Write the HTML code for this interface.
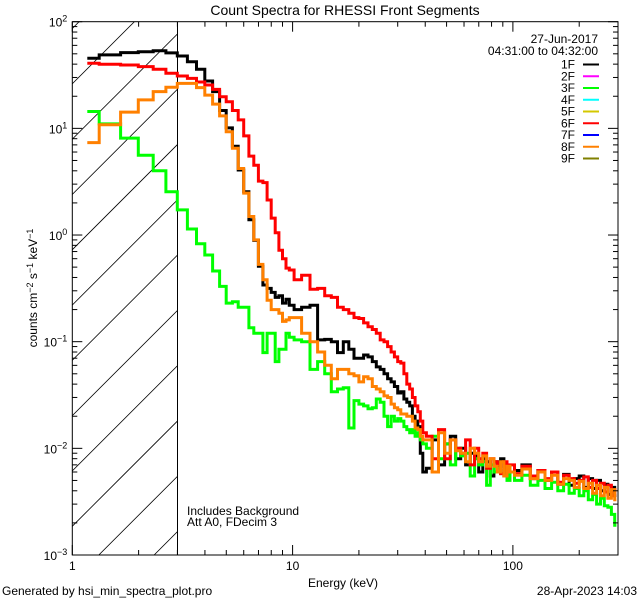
<!DOCTYPE html>
<html><head><meta charset="utf-8">
<style>
body{margin:0;background:#fff;}
svg{display:block;font-family:"Liberation Sans",sans-serif;}
text{fill:#000;font-size:12px;}
</style></head>
<body>
<svg id="chart" width="640" height="600" viewBox="0 0 640 600">
<rect width="640" height="600" fill="#fff"/>
<text x="345" y="15" text-anchor="middle" style="font-size:14px">Count Spectra for RHESSI Front Segments</text>
<defs><clipPath id="hatchclip"><rect x="72.3" y="21.7" width="105.2" height="533.3"/></clipPath>
<clipPath id="plotclip"><rect x="72.3" y="21.7" width="545.7" height="533.3"/></clipPath></defs>
<g id="hatch" clip-path="url(#hatchclip)"></g>
<line x1="177.5" y1="21.7" x2="177.5" y2="555" stroke="#000" stroke-width="1"/>
<g id="series" clip-path="url(#plotclip)"></g>
<g id="axes"></g>
<text x="187" y="515">Includes Background</text>
<text x="187" y="526">Att A0, FDecim 3</text>
<text x="343" y="587" text-anchor="middle">Energy (keV)</text>
<text transform="translate(37,288) rotate(-90)" text-anchor="middle">counts cm<tspan dy="-4" style="font-size:9px">−2</tspan><tspan dy="4"> s</tspan><tspan dy="-4" style="font-size:9px">−1</tspan><tspan dy="4"> keV</tspan><tspan dy="-4" style="font-size:9px">−1</tspan></text>
<text x="2" y="595">Generated by hsi_min_spectra_plot.pro</text>
<text x="637" y="595" text-anchor="end">28-Apr-2023 14:03</text>
<text x="598" y="43" text-anchor="end">27-Jun-2017</text>
<text x="598" y="55" text-anchor="end">04:31:00 to 04:32:00</text>
<g id="legend"></g>
</svg>
<script>
const energyKeV=[1.17,1.5,1.83,2.17,2.5,2.83,3.17,3.5,3.83,4.17,4.5,4.83,5.17,5.5,5.83,6.17,6.5,6.83,7.17,7.5,7.83,8.17,8.5,8.83,9.17,9.5,9.83,
10.5,11.5,12.5,13.5,14.5,15.5,16.5,17.5,18.5,19.5,20.5,21.5,22.5,23.5,24.5,25.5,26.5,27.5,28.5,29.5,30.5,31.5,32.5,33.5,34.5,35.5,36.5,37.5,38.5,39.5,
41.5,44.5,47.5,50.5,53.5,56.5,59.5,62.5,65.5,68.5,71.5,74.5,77.5,80.5,83.5,86.5,89.5,92.5,95.5,98.5,
105,115,125,135,145,155,165,175,185,195,205,215,225,235,245,255,265,275,285,295];
const seg1F=[45.4,48.8,51.3,52.3,53.5,51,47.7,42.2,35.8,27.8,22.1,14.7,10.1,6.8,4.07,2.55,1.39,0.89,0.51,0.34,0.316,0.29,0.26,0.27,0.23,0.25,0.22,
0.2,0.21,0.22,0.104,0.105,0.1,0.079,0.1,0.085,0.07,0.07,0.075,0.072,0.065,0.058,0.055,0.05,0.045,0.042,0.038,0.033,0.034,0.029,0.027,0.025,0.02,0.018,0.016,0.009,0.006,
0.0065,0.012,0.007,0.011,0.013,0.008,0.01,0.007,0.009,0.0085,0.006,0.008,0.0075,0.0055,0.0075,0.0068,0.008,0.0055,0.0065,0.006,
0.0062,0.007,0.0052,0.0062,0.005,0.006,0.0046,0.0057,0.0045,0.0052,0.0055,0.0043,0.0052,0.0042,0.005,0.004,0.0046,0.0037,0.0043,0.0036];
const seg3F=[14.4,11,8.1,5.6,4.0,2.55,1.72,1.14,0.83,0.65,0.46,0.33,0.23,0.237,0.21,0.21,0.135,0.12,0.12,0.079,0.12,0.12,0.065,0.085,0.085,0.12,0.11,
0.104,0.1,0.055,0.065,0.05,0.034,0.036,0.037,0.0155,0.028,0.026,0.025,0.0235,0.024,0.029,0.027,0.02,0.016,0.02,0.018,0.019,0.018,0.016,0.015,0.014,0.015,0.013,0.014,0.012,0.011,
0.01,0.013,0.008,0.011,0.007,0.01,0.0085,0.009,0.0055,0.008,0.007,0.0075,0.0045,0.007,0.006,0.0065,0.0058,0.0062,0.005,0.006,
0.005,0.0056,0.0045,0.005,0.0042,0.0048,0.004,0.0046,0.0038,0.0042,0.0036,0.004,0.0033,0.0037,0.003,0.0034,0.0029,0.0028,0.0024,0.0019];
const seg6F=[40.7,39.9,39.3,37.9,35.8,32.8,31,29.4,27.2,25.5,23.2,19.8,17.8,14.7,12,8.5,5.5,4.5,3.2,3.1,2.13,1.44,1.05,0.72,0.6,0.49,0.47,
0.38,0.42,0.31,0.316,0.27,0.26,0.21,0.2,0.185,0.168,0.165,0.15,0.138,0.13,0.12,0.104,0.1,0.09,0.08,0.072,0.065,0.063,0.05,0.04,0.036,0.03,0.025,0.022,0.018,0.014,
0.013,0.008,0.015,0.008,0.012,0.01,0.009,0.012,0.007,0.01,0.008,0.009,0.0065,0.008,0.0075,0.007,0.0058,0.0075,0.0062,0.007,
0.0058,0.0068,0.0055,0.0062,0.0052,0.006,0.0048,0.0056,0.0052,0.0047,0.005,0.0054,0.0043,0.005,0.0042,0.0047,0.0039,0.0045,0.0036,0.0041];
const seg8F=[7.35,10.8,14.2,18.5,22.1,24.3,26.4,26.4,24.1,20.5,16.9,13.1,9.3,6.5,4.2,2.47,1.49,0.9,0.53,0.38,0.245,0.2,0.2,0.185,0.155,0.16,0.168,
0.168,0.12,0.1,0.08,0.06,0.045,0.055,0.055,0.05,0.048,0.042,0.047,0.045,0.038,0.036,0.034,0.031,0.03,0.026,0.024,0.023,0.021,0.021,0.02,0.02,0.018,0.0155,0.015,0.013,0.012,
0.012,0.006,0.014,0.009,0.012,0.0095,0.009,0.0075,0.01,0.009,0.0075,0.0085,0.0068,0.008,0.0068,0.006,0.0075,0.0055,0.0068,0.006,
0.0056,0.0064,0.0052,0.006,0.005,0.0056,0.0046,0.0052,0.005,0.0043,0.0049,0.0042,0.0047,0.0038,0.0045,0.0036,0.0043,0.0034,0.0041,0.0033];
const legendLabels=["1F","2F","3F","4F","5F","6F","7F","8F","9F"];
const legendColors=["#000000","#ff00ff","#00ff00","#00ffff","#d4c800","#ff0000","#0000ff","#ff8000","#808000"];
const xTickLabels=["1","10","100"];
const yTickExps=["2","1","0","−1","−2","−3"];

const NS="http://www.w3.org/2000/svg";
const X0=72.3,X1=618,Y0=21.7,Y1=555;
const xMinLog=0,xMaxLog=Math.log10(300),yMinLog=-3,yMaxLog=2;
function xs(e){return X0+(Math.log10(e)-xMinLog)/(xMaxLog-xMinLog)*(X1-X0);}
function ys(v){return Y1-(Math.log10(v)-yMinLog)/(yMaxLog-yMinLog)*(Y1-Y0);}
function mk(tag,attrs,parent){const el=document.createElementNS(NS,tag);for(const k in attrs)el.setAttribute(k,attrs[k]);parent.appendChild(el);return el;}

const hatch=document.getElementById('hatch');
for(let k=-10;k<4;k++){const x0=98.8+k*55.3;
 const l=mk('line',{x1:x0,y1:Y1,x2:x0+600,y2:Y1-600,stroke:'#000','stroke-width':0.8},hatch);
 
 }

const series=document.getElementById('series');
function drawSeries(vals,color,name){
 let d='';
 for(let i=0;i<energyKeV.length;i++){
  const xl=i===0?xs(energyKeV[0]):xs(Math.sqrt(energyKeV[i-1]*energyKeV[i]));
  const xr=i===energyKeV.length-1?xs(energyKeV[i]):xs(Math.sqrt(energyKeV[i]*energyKeV[i+1]));
  const y=ys(vals[i]);
  d+=(i===0?'M':'L')+xl.toFixed(1)+','+y.toFixed(1)+'L'+xr.toFixed(1)+','+y.toFixed(1);
 }
 const p=mk('path',{d:d,fill:'none',stroke:color,'stroke-width':3,'stroke-linejoin':'miter'},series);
 
 
}
drawSeries(seg1F,'#000000','series-1f');
drawSeries(seg3F,'#00ff00','series-3f');
drawSeries(seg6F,'#ff0000','series-6f');
drawSeries(seg8F,'#ff8000','series-8f');

const axes=document.getElementById('axes');
const frame=mk('rect',{x:X0,y:Y0,width:X1-X0,height:Y1-Y0,fill:'none',stroke:'#000','stroke-width':1},axes);


for(let dec=0;dec<3;dec++){
 for(let m=1;m<10;m++){const e=m*Math.pow(10,dec);if(e>300)break;
  const x=xs(e),len=m===1?10:5;
  const t1=mk('line',{x1:x,y1:Y1,x2:x,y2:Y1-len,stroke:'#000'},axes);
  
  
  const t2=mk('line',{x1:x,y1:Y0,x2:x,y2:Y0+len,stroke:'#000'},axes);
  
  
 }
 const lab=mk('text',{x:xs(Math.pow(10,dec)),y:Y1+15,'text-anchor':'middle'},axes);
 lab.textContent=xTickLabels[dec];
 
 
}
for(let dec=-3;dec<=2;dec++){
 for(let m=1;m<10;m++){const v=m*Math.pow(10,dec);if(v>100)break;
  const y=ys(v),len=m===1?10:5;
  const t1=mk('line',{x1:X0,y1:y,x2:X0+len,y2:y,stroke:'#000'},axes);
  
  
  const t2=mk('line',{x1:X1,y1:y,x2:X1-len,y2:y,stroke:'#000'},axes);
  
  
 }
 const lab=mk('text',{x:X0-5,y:ys(Math.pow(10,dec))+5,'text-anchor':'end'},axes);
 lab.innerHTML='10<tspan dy="-5" style="font-size:9px">'+yTickExps[2-dec]+'</tspan>';
 
 
}

const legend=document.getElementById('legend');
for(let i=0;i<legendLabels.length;i++){
 const y=64.5+i*11.75;
 const t=mk('text',{x:575,y:y+4,'text-anchor':'end'},legend);
 t.textContent=legendLabels[i];
 
 
 const l=mk('line',{x1:583,y1:y,x2:599,y2:y,stroke:legendColors[i],'stroke-width':2},legend);
 
 
}
</script>
</body></html>
